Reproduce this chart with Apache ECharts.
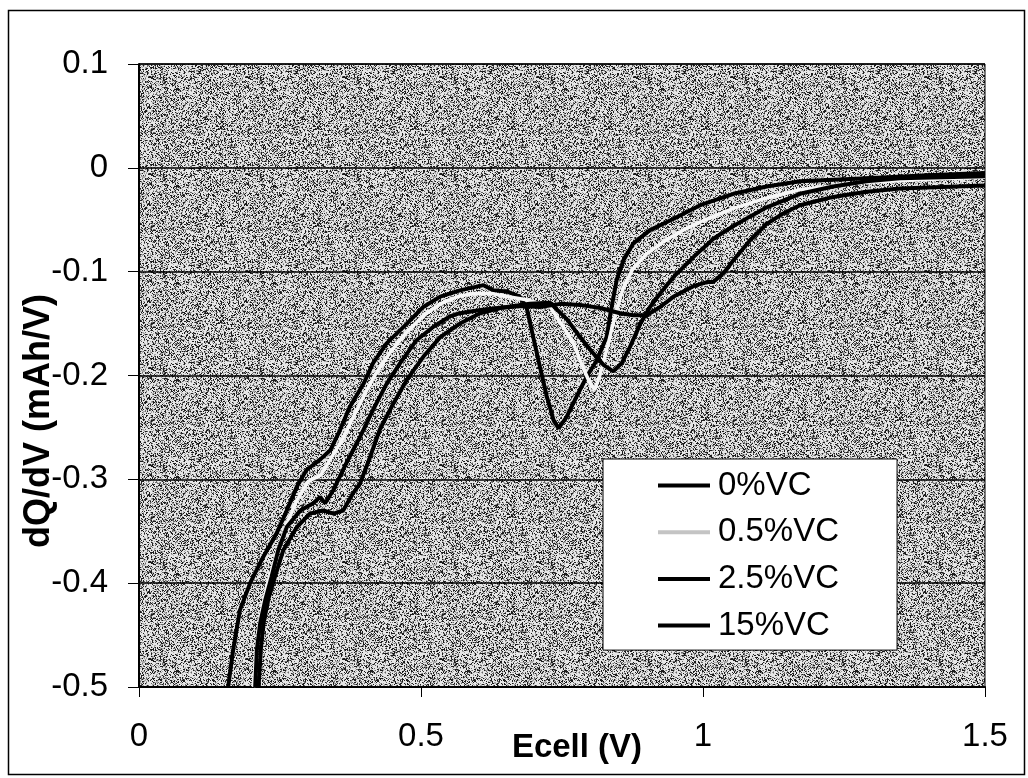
<!DOCTYPE html>
<html>
<head>
<meta charset="utf-8">
<script src="https://cdn.jsdelivr.net/npm/echarts@6/dist/echarts.min.js"></script>
<style>
	html, body {margin:0; padding:0; background:#fff;}
	#chart {width:1028px; height:778px;}
</style>
</head>
<body>
<div id="chart"></div>
<script>
	// dQ/dV vs Ecell
	var seriesNames = ['0%VC', '0.5%VC', '2.5%VC', '15%VC'];
	var xTicks = [0, 0.5, 1, 1.5];
	var yTicks = [-0.5, -0.4, -0.3, -0.2, -0.1, 0, 0.1];

	var vc0 = [[0.158,-0.500],[0.167,-0.464],[0.179,-0.426],[0.197,-0.400],[0.220,-0.375],[0.244,-0.352],[0.262,-0.330],[0.280,-0.307],[0.297,-0.291],[0.321,-0.281],[0.339,-0.272],[0.356,-0.253],[0.374,-0.230],[0.398,-0.208],[0.415,-0.188],[0.439,-0.169],[0.475,-0.150],[0.504,-0.134],[0.534,-0.124],[0.569,-0.118],[0.611,-0.113],[0.628,-0.118],[0.652,-0.119],[0.675,-0.124],[0.687,-0.134],[0.699,-0.163],[0.711,-0.192],[0.723,-0.220],[0.735,-0.243],[0.744,-0.251],[0.758,-0.240],[0.776,-0.220],[0.794,-0.201],[0.812,-0.185],[0.829,-0.163],[0.838,-0.134],[0.847,-0.108],[0.859,-0.089],[0.876,-0.073],[0.906,-0.060],[0.948,-0.049],[0.995,-0.036],[1.054,-0.025],[1.113,-0.018],[1.172,-0.013],[1.290,-0.010],[1.408,-0.007],[1.500,-0.005]];

	var vc05 = [[0.203,-0.500],[0.207,-0.470],[0.215,-0.432],[0.228,-0.400],[0.245,-0.370],[0.262,-0.343],[0.280,-0.320],[0.300,-0.302],[0.322,-0.296],[0.340,-0.280],[0.360,-0.262],[0.380,-0.240],[0.400,-0.218],[0.420,-0.198],[0.445,-0.178],[0.475,-0.158],[0.505,-0.142],[0.534,-0.131],[0.565,-0.124],[0.593,-0.121],[0.625,-0.121],[0.652,-0.124],[0.687,-0.127],[0.729,-0.134],[0.752,-0.153],[0.770,-0.169],[0.787,-0.192],[0.800,-0.208],[0.808,-0.214],[0.817,-0.200],[0.828,-0.178],[0.838,-0.156],[0.848,-0.134],[0.860,-0.114],[0.876,-0.097],[0.900,-0.083],[0.930,-0.071],[0.965,-0.060],[1.000,-0.051],[1.054,-0.039],[1.113,-0.029],[1.172,-0.021],[1.290,-0.014],[1.408,-0.011],[1.500,-0.009]];

	var vc25 = [[0.206,-0.500],[0.209,-0.464],[0.215,-0.438],[0.224,-0.416],[0.235,-0.394],[0.247,-0.368],[0.262,-0.346],[0.286,-0.330],[0.309,-0.323],[0.321,-0.317],[0.330,-0.323],[0.345,-0.310],[0.368,-0.284],[0.392,-0.259],[0.415,-0.233],[0.439,-0.208],[0.463,-0.188],[0.492,-0.166],[0.522,-0.153],[0.551,-0.143],[0.569,-0.140],[0.605,-0.137],[0.652,-0.134],[0.693,-0.131],[0.729,-0.130],[0.759,-0.146],[0.782,-0.163],[0.806,-0.179],[0.824,-0.190],[0.841,-0.196],[0.856,-0.188],[0.871,-0.172],[0.889,-0.150],[0.906,-0.134],[0.924,-0.121],[0.948,-0.105],[0.983,-0.086],[1.019,-0.068],[1.054,-0.056],[1.083,-0.047],[1.113,-0.038],[1.172,-0.025],[1.231,-0.018],[1.290,-0.013],[1.349,-0.010],[1.500,-0.008]];

	var vc15 = [[0.212,-0.500],[0.216,-0.464],[0.221,-0.438],[0.229,-0.416],[0.241,-0.394],[0.256,-0.368],[0.280,-0.346],[0.303,-0.333],[0.327,-0.330],[0.345,-0.333],[0.362,-0.330],[0.380,-0.313],[0.392,-0.304],[0.410,-0.278],[0.427,-0.252],[0.451,-0.227],[0.475,-0.204],[0.504,-0.182],[0.534,-0.163],[0.569,-0.150],[0.605,-0.140],[0.640,-0.135],[0.676,-0.133],[0.711,-0.134],[0.747,-0.131],[0.782,-0.132],[0.818,-0.135],[0.853,-0.140],[0.876,-0.142],[0.900,-0.142],[0.924,-0.134],[0.948,-0.124],[0.983,-0.114],[1.007,-0.110],[1.018,-0.110],[1.037,-0.101],[1.054,-0.089],[1.083,-0.070],[1.113,-0.054],[1.142,-0.044],[1.172,-0.036],[1.231,-0.028],[1.290,-0.023],[1.349,-0.020],[1.500,-0.017]];

	var font = "'Liberation Sans', Arial, sans-serif";

	// stippled plot background like the scanned print (fixed integer hash, no randomness)
	function stipple() {
		var size = 97;
		var c = document.createElement('canvas');
		c.width = size; c.height = size;
		var ctx = c.getContext('2d');
		var img = ctx.createImageData(size, size);
		for (var i = 0; i < size * size; i++) {
			var h = Math.imul(i + 1, 0x9E3779B1);
			h ^= h >>> 15; h = Math.imul(h, 0x85EBCA77);
			h ^= h >>> 13; h = Math.imul(h, 0xC2B2AE3D);
			h ^= h >>> 16;
			var v = (h >>> 0) % 100;
			var g = v < 21 ? 28 : (v < 33 ? 105 : (v < 48 ? 168 : 230));
			img.data[i * 4] = g; img.data[i * 4 + 1] = g; img.data[i * 4 + 2] = g; img.data[i * 4 + 3] = 255;
		}
		ctx.putImageData(img, 0, 0);
		return c;
	}

	var myChart = echarts.init(document.getElementById('chart'), null, {renderer: 'canvas'});

	function curve(name, data, color, width) {
		return {
			name: name,
			type: 'line',
			data: data,
			symbol: 'none',
			smooth: false,
			lineStyle: {color: color, width: width},
			itemStyle: {color: color}
		};
	}

	var option = {
		animation: false,
		backgroundColor: '#fff',
		grid: {
			left: 139, right: 43, top: 64, bottom: 91,
			show: true,
			backgroundColor: {image: stipple(), repeat: 'repeat'},
			borderColor: '#000',
			borderWidth: 1
		},
		xAxis: {
			type: 'value',
			min: xTicks[0], max: xTicks[xTicks.length - 1], interval: 0.5,
			axisLine: {show: true, onZero: false, lineStyle: {color: '#000', width: 2}},
			axisTick: {show: true, inside: false, length: 10, lineStyle: {color: '#000', width: 1}},
			axisLabel: {fontSize: 33, color: '#000', margin: 33, fontFamily: font},
			splitLine: {show: false}
		},
		yAxis: {
			type: 'value',
			min: yTicks[0], max: yTicks[yTicks.length - 1], interval: 0.1,
			axisLine: {show: true, lineStyle: {color: '#000', width: 2}},
			axisTick: {show: true, inside: false, length: 11, lineStyle: {color: '#000', width: 1}},
			axisLabel: {fontSize: 33, color: '#000', margin: 31, fontFamily: font},
			splitLine: {show: true, lineStyle: {color: '#000', width: 1.5}}
		},
		legend: {
			orient: 'vertical',
			left: 603, top: 459,
			padding: [10, 58, 8, 55],
			itemGap: 13.7,
			icon: 'rect',
			itemWidth: 52,
			itemHeight: 4,
			backgroundColor: '#fff',
			borderColor: '#000',
			borderWidth: 1,
			borderRadius: 0,
			textStyle: {fontSize: 33, color: '#000', fontFamily: font, lineHeight: 33, padding: [0, 0, 0, 3]},
			data: [
				{name: seriesNames[0]},
				{name: seriesNames[1], itemStyle: {color: '#c4c4c4'}},
				{name: seriesNames[2]},
				{name: seriesNames[3]}
			]
		},
		graphic: [
			{type: 'rect', left: 6, top: 8, shape: {width: 1016, height: 764}, style: {fill: 'none', stroke: '#000', lineWidth: 1.5}, silent: true},
			{type: 'text', x: 39, y: 421, rotation: Math.PI / 2, style: {text: 'dQ/dV (mAh/V)', font: 'bold 36px ' + font, fill: '#000', textAlign: 'center', textVerticalAlign: 'middle'}},
			{type: 'text', x: 577, y: 748, style: {text: 'Ecell (V)', font: 'bold 33px ' + font, fill: '#000', textAlign: 'center', textVerticalAlign: 'middle'}}
		],
		series: [
			curve(seriesNames[0], vc0, '#000', 4),
			curve(seriesNames[1], vc05, '#f6f6f6', 3.5),
			curve(seriesNames[2], vc25, '#000', 4),
			curve(seriesNames[3], vc15, '#000', 4)
		]
	};
	myChart.setOption(option);
</script>
</body>
</html>
